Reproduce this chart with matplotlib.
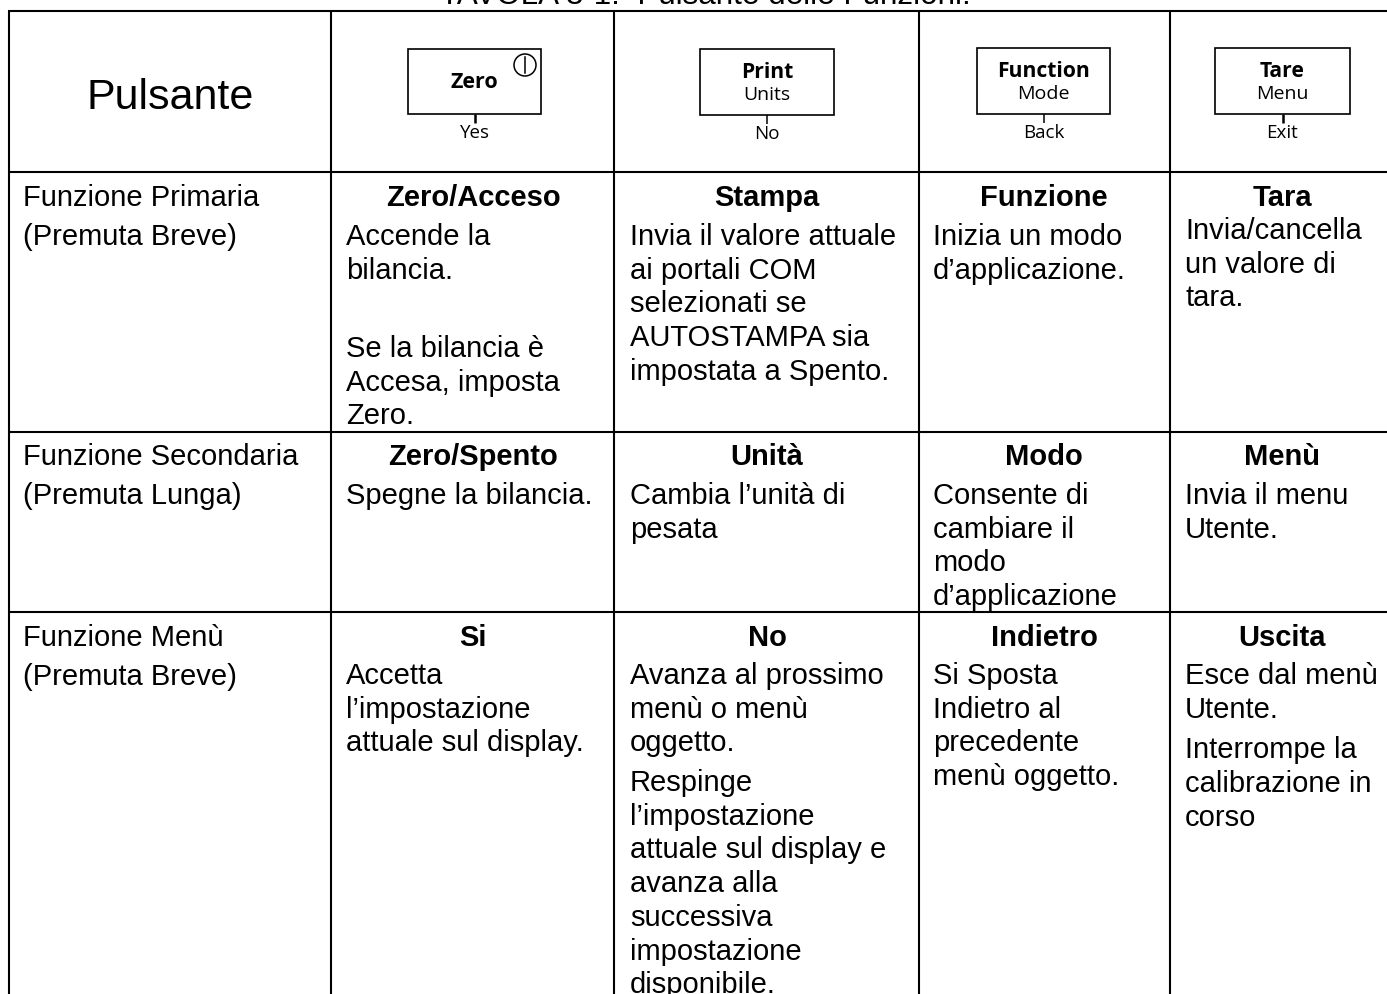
import matplotlib
matplotlib.use('Agg')
import matplotlib.pyplot as plt
from matplotlib.patches import Rectangle, Circle

# --- table content ---
title = 'TAVOLA 3-1.  Pulsante delle Funzioni.'
header = 'Pulsante'
row_labels = [
    ['Funzione Primaria', '(Premuta Breve)'],
    ['Funzione Secondaria', '(Premuta Lunga)'],
    ['Funzione Menù', '(Premuta Breve)'],
]
col_heads = [
    ['Zero/Acceso', 'Stampa', 'Funzione', 'Tara'],
    ['Zero/Spento', 'Unità', 'Modo', 'Menù'],
    ['Si', 'No', 'Indietro', 'Uscita'],
]
cell_lines = [
    [
        ['Accende la', 'bilancia.', '', 'Se la bilancia è', 'Accesa, imposta', 'Zero.'],
        ['Invia il valore attuale', 'ai portali COM', 'selezionati se', 'AUTOSTAMPA sia', 'impostata a Spento.'],
        ['Inizia un modo', 'd’applicazione.'],
        ['Invia/cancella', 'un valore di', 'tara.'],
    ],
    [
        ['Spegne la bilancia.'],
        ['Cambia l’unità di', 'pesata'],
        ['Consente di', 'cambiare il', 'modo', 'd’applicazione'],
        ['Invia il menu', 'Utente.'],
    ],
    [
        ['Accetta', 'l’impostazione', 'attuale sul display.'],
        ['Avanza al prossimo', 'menù o menù', 'oggetto.', 'Respinge', 'l’impostazione', 'attuale sul display e',
         'avanza alla', 'successiva', 'impostazione', 'disponibile.'],
        ['Si Sposta', 'Indietro al', 'precedente', 'menù oggetto.'],
        ['Esce dal menù', 'Utente.', 'Interrompe la', 'calibrazione in', 'corso'],
    ],
]
button_main = ['Zero', 'Print', 'Function', 'Tare']
button_sub = ['', 'Units', 'Mode', 'Menu']
button_below = ['Yes', 'No', 'Back', 'Exit']

# --- layout, pixels ---
col_x = [9, 331, 614, 919, 1170]
row_y = [11, 172, 432, 612]
col_centers = [473, 767, 1044, 1282]
text_x = [346, 630, 933, 1185]
head_base = [206, 465, 646]
body_base = [245, 504, 684]
box_left = [408, 700, 977, 1215]
box_right = [541, 834, 1110, 1350]
box_top = [49, 49, 48, 48]
box_bottom = [113.5, 115, 114, 114]
tick_x = [474.5, 767, 1044, 1282.5]
tick_lw = [1.8, 1.1, 1.1, 1.8]
line_h = 33.7
fs = 21

fig = plt.figure(figsize=(13.87, 9.94), dpi=100)
ax = fig.add_axes([0, 0, 1, 1])
ax.set_xlim(0, 1387)
ax.set_ylim(994, 0)
ax.axis('off')

sans = 'Liberation Sans'
ui = 'Open Sans'

ax.text(705, 4.5, title, fontsize=22.6, family=sans, ha='center', va='baseline')

# grid
for x in col_x:
    ax.plot([x, x], [row_y[0], 994], color='black', lw=1.5, solid_capstyle='butt')
for y in row_y:
    ax.plot([col_x[0] - 1, 1387], [y, y], color='black', lw=1.5, solid_capstyle='butt')

ax.text(170, 109, header, fontsize=31, family=sans, ha='center', va='baseline')

# buttons
for i in range(4):
    w = box_right[i] - box_left[i]
    h = box_bottom[i] - box_top[i]
    ax.add_patch(Rectangle((box_left[i], box_top[i]), w, h, fill=False, ec='black', lw=1.2))
    xc = (box_left[i] + box_right[i]) / 2
    ax.plot([tick_x[i], tick_x[i]], [box_bottom[i], box_bottom[i] + 9], color='black', lw=tick_lw[i],
            solid_capstyle='butt')
    if button_sub[i]:
        ax.text(xc, box_top[i] + 29, button_main[i], fontsize=15.2, family=ui, weight='bold', ha='center', va='baseline')
        ax.text(xc, box_top[i] + 51, button_sub[i], fontsize=14, family=ui, ha='center', va='baseline')
    else:
        ax.text(xc - 0, box_top[i] + 39, button_main[i], fontsize=15.5, family=ui, weight='bold', ha='center', va='baseline')
    ax.text(tick_x[i], box_bottom[i] + 24, button_below[i], fontsize=13.5, family=ui, ha='center', va='baseline')

# power symbol on the Zero button
ax.add_patch(Circle((525, 65), 11, fill=False, ec='black', lw=1.1))
ax.plot([525, 525], [57, 73], color='black', lw=1.1)

# extra space after a paragraph, by (row, column, line index)
para_gap = {(0, 0, 3): 11, (2, 1, 3): 6, (2, 3, 2): 7}

# rows
for r in range(3):
    for j, s in enumerate(row_labels[r]):
        ax.text(23, head_base[r] + j * 39, s, fontsize=fs, family=sans, va='baseline')
    for c in range(4):
        ax.text(col_centers[c], head_base[r], col_heads[r][c], fontsize=fs, family=sans, weight='bold',
                ha='center', va='baseline')
        y = body_base[r]
        if r == 0 and c == 3:
            y = 239
        for k, s in enumerate(cell_lines[r][c]):
            y += para_gap.get((r, c, k), 0)
            ax.text(text_x[c], y + k * line_h, s, fontsize=fs, family=sans, va='baseline')

fig.savefig('out.png', dpi=100)
